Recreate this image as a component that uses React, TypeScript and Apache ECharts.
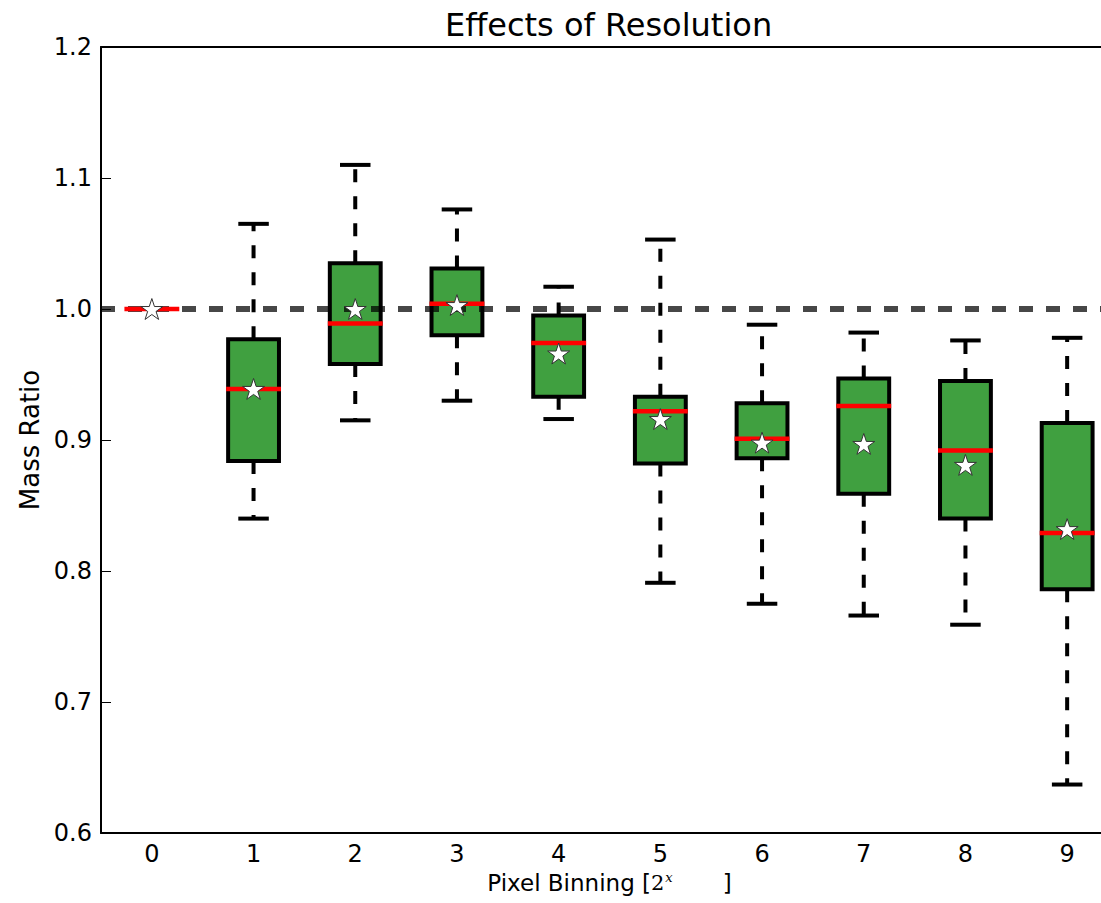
import React, { useEffect, useRef } from "react";
import * as echarts from "echarts";

const categories = ["0", "1", "2", "3", "4", "5", "6", "7", "8", "9"];
const lowerWhisker = [1.0, 0.84, 0.915, 0.93, 0.916, 0.791, 0.775, 0.766, 0.759, 0.637];
const q1Values = [1.0, 0.884, 0.958, 0.98, 0.933, 0.882, 0.886, 0.859, 0.84, 0.786];
const medianValues = [1.0, 0.939, 0.989, 1.004, 0.974, 0.922, 0.901, 0.926, 0.892, 0.829];
const q3Values = [1.0, 0.977, 1.035, 1.031, 0.995, 0.933, 0.928, 0.947, 0.945, 0.913];
const upperWhisker = [1.0, 1.065, 1.11, 1.076, 1.017, 1.053, 0.988, 0.982, 0.976, 0.978];
const meanValues = [1.0, 0.939, 1.0, 1.003, 0.966, 0.916, 0.898, 0.897, 0.881, 0.832];
const referenceValue = 1.0;
const yTicks = { min: 0.6, max: 1.2, interval: 0.1 };

const FONT = "DejaVu Sans";
const STAR =
  "path://M50,0 L61.2,34.5 L97.6,34.5 L68.2,55.9 L79.4,90.5 L50,69.1 L20.6,90.5 L31.8,55.9 L2.4,34.5 L38.8,34.5 Z";

export default function App() {
  const ref = useRef<HTMLDivElement>(null);

  useEffect(() => {
    if (!ref.current) return;
    const chart = echarts.init(ref.current, undefined, { renderer: "svg" });

    const boxData = categories.map((_, i) => [
      i,
      lowerWhisker[i],
      q1Values[i],
      medianValues[i],
      q3Values[i],
      upperWhisker[i],
    ]);
    const meanData = categories.map((_, i) => [i, meanValues[i]]);

    const axisLineStyle = { color: "#000", width: 2 };
    const tickStyle = { color: "#000", width: 1 };

    chart.setOption({
      animation: false,
      backgroundColor: "#fff",
      title: {
        text: "Effects of Resolution",
        left: 445,
        top: 9,
        padding: 0,
        textStyle: { fontFamily: FONT, fontSize: 32, fontWeight: "normal", color: "#000" },
      },
      grid: { left: 101, top: 47, width: 1017, height: 786 },
      xAxis: [
        {
          type: "category",
          data: categories,
          position: "bottom",
          boundaryGap: true,
          axisLine: { lineStyle: axisLineStyle },
          axisTick: { inside: true, length: 10, alignWithLabel: true, lineStyle: tickStyle },
          axisLabel: { fontFamily: FONT, fontSize: 24, color: "#000", margin: 9 },
          splitLine: { show: false },
          name: "{a|Pixel Binning [}{b|2}{c|x}{d|]}",
          nameLocation: "middle",
          nameGap: 38,
          nameTextStyle: {
            rich: {
              a: { fontFamily: FONT, fontSize: 23, color: "#000" },
              b: { fontFamily: "DejaVu Serif", fontSize: 21, color: "#000" },
              c: {
                fontFamily: "DejaVu Serif",
                fontStyle: "italic",
                fontSize: 13,
                color: "#000",
                verticalAlign: "top",
                padding: [0, 0, 0, 1],
              },
              d: { fontFamily: FONT, fontSize: 23, color: "#000", padding: [0, 0, 0, 50] },
            },
          },
        },
        {
          type: "category",
          data: categories,
          position: "top",
          boundaryGap: true,
          axisLine: { lineStyle: axisLineStyle },
          axisTick: { inside: true, length: 10, alignWithLabel: true, lineStyle: tickStyle },
          axisLabel: { show: false },
          splitLine: { show: false },
        },
      ],
      yAxis: [
        {
          type: "value",
          min: yTicks.min,
          max: yTicks.max,
          interval: yTicks.interval,
          position: "left",
          axisLine: { show: true, lineStyle: axisLineStyle },
          axisTick: { show: true, inside: true, length: 10, lineStyle: tickStyle },
          axisLabel: {
            fontFamily: FONT,
            fontSize: 24,
            color: "#000",
            margin: 9,
            formatter: (v: number) => v.toFixed(1),
          },
          splitLine: { show: false },
          name: "Mass Ratio",
          nameLocation: "middle",
          nameGap: 56,
          nameTextStyle: { fontFamily: FONT, fontSize: 26, color: "#000" },
        },
        {
          type: "value",
          min: yTicks.min,
          max: yTicks.max,
          interval: yTicks.interval,
          position: "right",
          axisLine: { show: true, lineStyle: axisLineStyle },
          axisTick: { show: true, inside: true, length: 10, lineStyle: tickStyle },
          axisLabel: { show: false },
          splitLine: { show: false },
        },
      ],
      series: [
        {
          type: "custom",
          name: "boxes",
          z: 2,
          data: boxData,
          encode: { x: 0, y: [1, 2, 3, 4, 5] },
          renderItem: (params: any, api: any) => {
            const i = api.value(0);
            const lo = api.coord([i, api.value(1)]);
            const q1 = api.coord([i, api.value(2)]);
            const q3 = api.coord([i, api.value(4)]);
            const hi = api.coord([i, api.value(5)]);
            const band = api.size([1, 0])[0];
            const bw = band * 0.5;
            const cw = band * 0.3;
            const x = lo[0];
            const whisk = { stroke: "#000", lineWidth: 4, lineDash: [13, 14], fill: null };
            const solid = { stroke: "#000", lineWidth: 4, fill: null };
            return {
              type: "group",
              children: [
                { type: "line", shape: { x1: x, y1: q3[1], x2: x, y2: hi[1] }, style: whisk },
                { type: "line", shape: { x1: x, y1: q1[1], x2: x, y2: lo[1] }, style: whisk },
                { type: "line", shape: { x1: x - cw / 2, y1: hi[1], x2: x + cw / 2, y2: hi[1] }, style: solid },
                { type: "line", shape: { x1: x - cw / 2, y1: lo[1], x2: x + cw / 2, y2: lo[1] }, style: solid },
                {
                  type: "rect",
                  shape: { x: x - bw / 2, y: q3[1], width: bw, height: q1[1] - q3[1] },
                  style: { fill: "#40a040", stroke: "#000", lineWidth: 4 },
                },
              ],
            };
          },
        },
        {
          type: "custom",
          name: "reference",
          z: 4,
          data: [[0, referenceValue]],
          encode: { x: 0, y: 1 },
          renderItem: (params: any, api: any) => {
            const y = api.coord([0, api.value(1)])[1];
            const cs = params.coordSys;
            return {
              type: "line",
              shape: { x1: cs.x, y1: y, x2: cs.x + cs.width, y2: y },
              style: { stroke: "rgba(0,0,0,0.72)", lineWidth: 6, lineDash: [14, 13], fill: null },
            };
          },
        },
        {
          type: "custom",
          name: "medians",
          z: 6,
          data: boxData,
          encode: { x: 0, y: 3 },
          renderItem: (params: any, api: any) => {
            const i = api.value(0);
            const m = api.coord([i, api.value(3)]);
            const band = api.size([1, 0])[0];
            const w = band * 0.5 + 4;
            return {
              type: "line",
              shape: { x1: m[0] - w / 2, y1: m[1], x2: m[0] + w / 2, y2: m[1] },
              style: { stroke: "#ff0000", lineWidth: 4.5, fill: null },
            };
          },
        },
        {
          type: "scatter",
          name: "means",
          z: 8,
          data: meanData,
          symbol: STAR,
          symbolSize: 22,
          symbolKeepAspect: true,
          itemStyle: { color: "#ffffff", borderColor: "#333333", borderWidth: 1, opacity: 1 },
          emphasis: { disabled: true },
        },
      ],
    });

    return () => chart.dispose();
  }, []);

  return (
    <div
      style={{
        position: "fixed",
        left: 0,
        top: 0,
        width: 1101,
        height: 903,
        overflow: "hidden",
        background: "#fff",
      }}
    >
      <div ref={ref} style={{ width: 1130, height: 903 }} />
    </div>
  );
}
